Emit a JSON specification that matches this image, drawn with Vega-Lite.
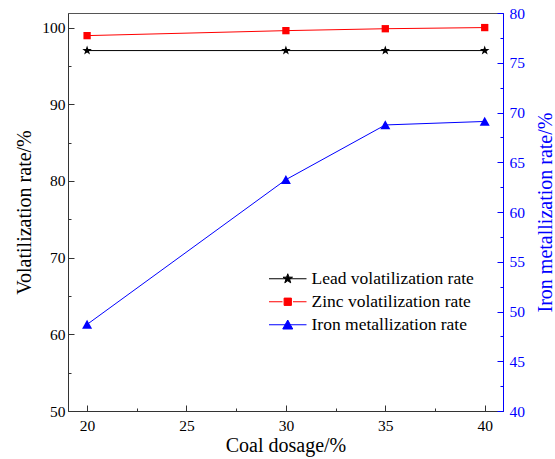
{
  "$schema": "https://vega.github.io/schema/vega-lite/v6.json",
  "width": 435,
  "height": 398,
  "autosize": "none",
  "padding": {"left": 68, "top": 13, "right": 52, "bottom": 48},
  "background": "white",
  "config": {
    "font": "Liberation Serif",
    "view": {"stroke": "#555555", "strokeWidth": 1},
    "axis": {
      "grid": false,
      "labelFont": "Liberation Serif",
      "titleFont": "Liberation Serif",
      "labelFontSize": 15.5,
      "titleFontSize": 20,
      "titleFontWeight": "normal",
      "labelColor": "black",
      "titleColor": "black",
      "domainColor": "#333333",
      "tickColor": "#333333",
      "domainWidth": 1,
      "tickWidth": 1
    },
    "legend": {
      "labelFont": "Liberation Serif",
      "labelFontSize": 17.5,
      "labelLimit": 400,
      "title": null,
      "orient": "none",
      "legendX": 211,
      "legendY": 257,
      "symbolSize": 100,
      "labelOffset": 15,
      "rowPadding": 4,
      "symbolStrokeWidth": 1
    }
  },
  "datasets": {
    "vol": [
      {"dosage": 20, "series": "Lead volatilization rate", "value": 97.0},
      {"dosage": 30, "series": "Lead volatilization rate", "value": 97.0},
      {"dosage": 35, "series": "Lead volatilization rate", "value": 97.0},
      {"dosage": 40, "series": "Lead volatilization rate", "value": 97.0},
      {"dosage": 20, "series": "Zinc volatilization rate", "value": 98.95},
      {"dosage": 30, "series": "Zinc volatilization rate", "value": 99.6},
      {"dosage": 35, "series": "Zinc volatilization rate", "value": 99.85},
      {"dosage": 40, "series": "Zinc volatilization rate", "value": 100.0}
    ],
    "iron": [
      {"dosage": 20, "series": "Iron metallization rate", "value": 48.7},
      {"dosage": 30, "series": "Iron metallization rate", "value": 63.25},
      {"dosage": 35, "series": "Iron metallization rate", "value": 68.75},
      {"dosage": 40, "series": "Iron metallization rate", "value": 69.1}
    ]
  },
  "encoding": {
    "x": {
      "field": "dosage",
      "type": "quantitative",
      "scale": {"domain": [19.04, 40.92], "nice": false, "zero": false},
      "axis": {
        "values": [20, 22.5, 25, 27.5, 30, 32.5, 35, 37.5, 40],
        "labelExpr": "datum.value % 5 === 0 ? datum.label : ''",
        "tickSize": {"condition": {"test": "datum.value % 5 === 0", "value": -6}, "value": -3},
        "labelFont": "Liberation Serif",
        "labelPadding": 13,
        "labelAngle": 0,
        "title": "Coal dosage/%",
        "titlePadding": 2
      }
    }
  },
  "layer": [
    {
      "data": {"name": "vol"},
      "encoding": {
        "y": {
          "field": "value",
          "type": "quantitative",
          "scale": {"domain": [50, 101.9], "nice": false, "zero": false},
          "axis": {
            "values": [50, 55, 60, 65, 70, 75, 80, 85, 90, 95, 100],
            "labelExpr": "datum.value % 10 === 0 ? datum.label : ''",
            "tickSize": {"condition": {"test": "datum.value % 10 === 0", "value": -6}, "value": -3},
            "labelFont": "Liberation Serif",
            "labelPadding": 9,
            "title": "Volatilization rate/%",
            "titlePadding": 7
          }
        }
      },
      "layer": [
        {
          "mark": {"type": "line", "strokeWidth": 1},
          "encoding": {
            "color": {
              "field": "series",
              "type": "nominal",
              "scale": {"domain": ["Lead volatilization rate", "Zinc volatilization rate", "Iron metallization rate"], "range": ["#000000", "#ff0000", "#0000ff"]},
              "legend": {
                "encoding": {
                  "symbols": {
                    "shape": {"condition": [
                      {"test": "datum.value === 'Lead volatilization rate'", "value": "M-3.75,0L3.75,0M0,-1L0.235,-0.324L0.951,-0.309L0.38,0.124L0.588,0.809L0,0.4L-0.588,0.809L-0.38,0.124L-0.951,-0.309L-0.235,-0.324Z"},
                      {"test": "datum.value === 'Zinc volatilization rate'", "value": "M-3.75,0L-1.05,0M1.05,0L3.75,0M-0.73,-0.73L0.73,-0.73L0.73,0.73L-0.73,0.73Z"}
                    ], "value": "M-3.75,0L3.75,0M0,-0.95L1,0.85L-1,0.85Z"},
                    "fill": {"condition": [
                      {"test": "datum.value === 'Lead volatilization rate'", "value": "#000000"},
                      {"test": "datum.value === 'Zinc volatilization rate'", "value": "#ff0000"}
                    ], "value": "#0000ff"},
                    "stroke": {"condition": [
                      {"test": "datum.value === 'Lead volatilization rate'", "value": "#000000"},
                      {"test": "datum.value === 'Zinc volatilization rate'", "value": "#ff0000"}
                    ], "value": "#0000ff"},
                    "strokeWidth": {"value": 1}
                  }
                }
              }
            }
          }
        },
        {
          "transform": [{"filter": "datum.series === 'Lead volatilization rate'"}],
          "mark": {"type": "point", "filled": true, "size": 100, "opacity": 1, "color": "#000000",
            "shape": "M0,-1L0.235,-0.324L0.951,-0.309L0.38,0.124L0.588,0.809L0,0.4L-0.588,0.809L-0.38,0.124L-0.951,-0.309L-0.235,-0.324Z"},
          "encoding": {}
        },
        {
          "transform": [{"filter": "datum.series === 'Zinc volatilization rate'"}],
          "mark": {"type": "point", "filled": true, "size": 100, "opacity": 1, "color": "#ff0000",
            "shape": "M-0.73,-0.73L0.73,-0.73L0.73,0.73L-0.73,0.73Z"},
          "encoding": {}
        }
      ]
    },
    {
      "data": {"name": "iron"},
      "encoding": {
        "y": {
          "field": "value",
          "type": "quantitative",
          "scale": {"domain": [40, 80], "nice": false, "zero": false},
          "axis": {
            "orient": "right",
            "values": [40, 42.5, 45, 47.5, 50, 52.5, 55, 57.5, 60, 62.5, 65, 67.5, 70, 72.5, 75, 77.5, 80],
            "labelExpr": "datum.value % 5 === 0 ? datum.label : ''",
            "tickSize": {"condition": {"test": "datum.value % 5 === 0", "value": -6}, "value": -3},
            "labelFont": "Liberation Serif",
            "labelPadding": 12,
            "domainColor": "#0000ff",
            "tickColor": "#0000ff",
            "labelColor": "#0000ff",
            "titleColor": "#0000ff",
            "title": "Iron metallization rate/%",
            "titleAngle": 270,
            "titleBaseline": "top",
            "titlePadding": 11
          }
        }
      },
      "layer": [
        {
          "mark": {"type": "line", "strokeWidth": 1},
          "encoding": {
            "color": {
              "field": "series",
              "type": "nominal",
              "scale": {"domain": ["Lead volatilization rate", "Zinc volatilization rate", "Iron metallization rate"], "range": ["#000000", "#ff0000", "#0000ff"]}
            }
          }
        },
        {
          "mark": {"type": "point", "filled": true, "size": 100, "opacity": 1, "color": "#0000ff",
            "shape": "M0,-0.95L1,0.85L-1,0.85Z"},
          "encoding": {}
        }
      ]
    }
  ],
  "resolve": {"scale": {"y": "independent"}}
}
